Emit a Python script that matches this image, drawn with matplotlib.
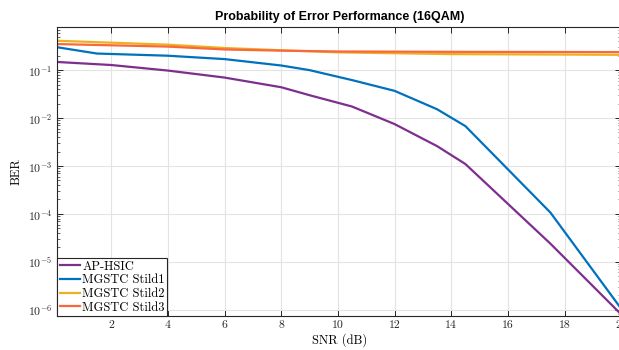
import matplotlib
matplotlib.use('Agg')
import matplotlib.pyplot as plt
from matplotlib.ticker import LogLocator, FuncFormatter, NullFormatter, MultipleLocator
import math

# 数据
snr_hsic = [0.1, 2, 4, 6, 8, 9, 10.5, 12, 13.5, 14.5, 17.5, 20]
ber_hsic = [0.148, 0.128, 0.098, 0.070, 0.044, 0.030, 0.0174, 0.0075, 0.0026, 0.0011, 2.4e-5, 8e-7]

snr_stild1 = [0.1, 1.5, 4, 6, 8, 9, 10.5, 12, 13.5, 14.5, 17.5, 20]
ber_stild1 = [0.30, 0.222, 0.20, 0.17, 0.125, 0.10, 0.062, 0.037, 0.0153, 0.0068, 1.07e-4, 1.05e-6]

snr_stild2 = [0.1, 4, 6, 8, 10, 14, 20]
ber_stild2 = [0.41, 0.34, 0.29, 0.26, 0.235, 0.216, 0.209]

snr_stild3 = [0.1, 4, 6, 8, 10, 14, 20]
ber_stild3 = [0.35, 0.31, 0.27, 0.255, 0.245, 0.241, 0.238]

labels = ['AP-HSIC', 'MGSTC Stild1', 'MGSTC Stild2', 'MGSTC Stild3']
colors = ['#7E2F8E', '#0072BD', '#EDB120', '#F9683A']

plt.rcParams['mathtext.fontset'] = 'cm'
plt.rcParams['font.family'] = ['cmr10', 'DejaVu Serif']
plt.rcParams['axes.formatter.use_mathtext'] = True

fig = plt.figure(figsize=(6.19, 3.5), dpi=100)
ax = fig.add_axes([0.0926, 0.097, 0.911, 0.827])

series = [(snr_hsic, ber_hsic), (snr_stild1, ber_stild1),
          (snr_stild2, ber_stild2), (snr_stild3, ber_stild3)]
for (x, y), lab, c in zip(series, labels, colors):
    ax.semilogy(x, y, color=c, lw=1.6, label=lab)

ymin, ymax = 7.4e-7, 0.81
ax.set_xlim(0.1, 20)
ax.set_ylim(ymin, ymax)


def ylab(v, p):
    # 只标注可见范围内的刻度
    if v < ymin or v > ymax:
        return ''
    return r'$10^{%d}$' % round(math.log10(v))


ax.xaxis.set_major_locator(MultipleLocator(2))
ax.yaxis.set_major_locator(LogLocator(base=10, numticks=12))
ax.yaxis.set_minor_locator(LogLocator(base=10, subs=range(2, 10), numticks=12))
ax.yaxis.set_minor_formatter(NullFormatter())
ax.yaxis.set_major_formatter(FuncFormatter(ylab))
ax.xaxis.set_major_formatter(FuncFormatter(lambda v, p: '%d' % v))

ax.grid(True, which='major', color='#E3E3E3', lw=0.8)
ax.set_axisbelow(True)
ax.tick_params(which='both', direction='in', top=True, right=True, colors='#262626',
               labelsize=8.5, labelcolor='#262626')
ax.tick_params(which='major', length=4, width=0.7)
ax.tick_params(which='minor', length=2, width=0.5)
for s in ax.spines.values():
    s.set_color('#262626')
    s.set_linewidth(0.8)

ax.set_xlabel('SNR (dB)', fontsize=9, labelpad=2)
ax.set_ylabel('BER', fontsize=9, labelpad=4)
ax.set_title('Probability of Error Performance (16QAM)', fontsize=9, fontweight='bold',
             family='Liberation Sans', pad=5)

leg = ax.legend(loc='lower left', borderaxespad=0, fontsize=9, handlelength=1.6,
                handletextpad=0.2, labelspacing=0.12, borderpad=0.2,
                fancybox=False, framealpha=1, edgecolor='#262626')
leg.get_frame().set_linewidth(0.8)

fig.savefig('out.png', dpi=100)
